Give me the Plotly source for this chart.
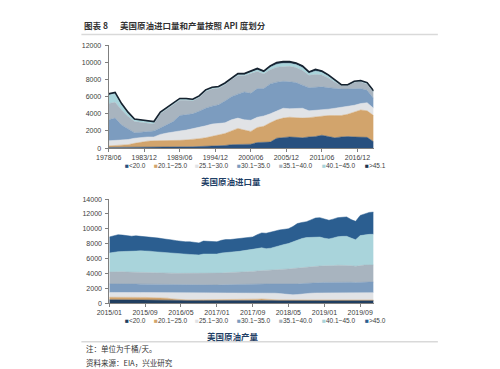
import plotly.graph_objects as go

# ---------------- data: US crude imports by API gravity (kb/d), annual ----------------
imp_dates = [f"{y}-06-01" for y in range(1978, 2020)]
imp_lt20 = [80, 80, 70, 70, 70, 80, 100, 120, 130, 130, 130, 140, 150, 150, 180, 200, 220, 250, 300, 400, 400,
            400, 450, 650, 700, 700, 1150, 1250, 1300, 1250, 1200, 1300, 1350, 1500, 1350, 1200, 1300, 1350, 1300,
            1300, 1250, 750]
imp_20_25 = [170, 200, 230, 330, 480, 620, 700, 730, 720, 750, 770, 760, 800, 850, 920, 1000, 1130, 1250, 1400,
             1600, 1900, 1700, 1500, 1750, 1850, 2250, 2150, 2250, 2300, 2300, 2300, 2250, 2300, 2200, 2450, 2600,
             2500, 2600, 2900, 3150, 3100, 3050]
imp_25_30 = [600, 600, 600, 600, 600, 550, 500, 450, 750, 870, 1000, 1100, 1150, 1250, 1350, 1400, 1450, 1350, 1250,
             1300, 1200, 1200, 1300, 1200, 1200, 1050, 1000, 1150, 1000, 1100, 1150, 800, 750, 750, 750, 850, 950,
             900, 800, 750, 950, 850]
imp_30_35 = [2450, 2620, 1800, 1200, 650, 600, 600, 700, 750, 950, 1200, 1800, 1800, 1750, 1850, 2050, 2100, 2200,
             2550, 2700, 2800, 3250, 3150, 3350, 3200, 3500, 3400, 3150, 3150, 3000, 2700, 2700, 2700, 2700, 2500,
             2300, 2150, 2050, 1950, 1750, 1450, 1150]
imp_35_40 = [1900, 1850, 1750, 1500, 1300, 1150, 1050, 800, 1650, 1800, 1950, 1800, 1700, 1500, 1600, 1950, 2000,
             1950, 1900, 2000, 2150, 1900, 2300, 2000, 1700, 1650, 1750, 1700, 1800, 1750, 1700, 1450, 1500, 1400,
             1150, 750, 400, 400, 750, 800, 700, 750]
imp_40_45 = [1000, 1050, 650, 400, 250, 250, 250, 250, 150, 150, 100, 120, 120, 120, 120, 120, 120, 120, 120, 120,
             150, 150, 180, 200, 200, 300, 350, 400, 350, 350, 350, 250, 400, 300, 220, 200, 50, 50, 50, 70, 100, 70]
imp_gt45 = [150, 100, 100, 100, 50, 50, 50, 50, 50, 50, 50, 80, 80, 80, 80, 80, 80, 80, 80, 80, 100, 100, 120, 150,
            150, 150, 200, 200, 200, 200, 200, 150, 200, 150, 130, 100, 50, 50, 50, 80, 100, 80]
imp_ticks = ["1978-06-01", "1983-12-01", "1989-06-01", "1994-12-01", "2000-06-01", "2005-12-01", "2011-06-01",
             "2016-12-01"]
imp_ticktext = ["1978/06", "1983/12", "1989/06", "1994/12", "2000/06", "2005/12", "2011/06", "2016/12"]

# ---------------- data: US crude production by API gravity (kb/d), monthly ----------------
prod_dates = [f"{y}-{m:02d}-01" for y in range(2015, 2020) for m in range(1, 13)]
prod_lt20 = [450, 450, 440, 440, 430, 430, 430, 420, 420, 420, 410, 410,
             400, 400, 380, 370, 360, 360, 350, 350, 350, 350, 340, 340,
             340, 340, 340, 340, 340, 340, 340, 340, 340, 340, 340, 340,
             340, 340, 340, 340, 330, 330, 330, 330, 330, 330, 330, 330,
             330, 330, 330, 330, 330, 330, 330, 330, 330, 330, 330, 330]
prod_20_25 = [330, 340, 350, 360, 360, 350, 350, 340, 340, 330, 320, 300,
              280, 250, 180, 120, 90, 80, 80, 80, 80, 80, 80, 80,
              80, 80, 90, 90, 90, 100, 100, 110, 120, 180, 200, 150,
              100, 90, 90, 90, 80, 80, 80, 80, 80, 80, 80, 80,
              80, 80, 80, 80, 80, 90, 130, 150, 120, 100, 90, 80]
prod_25_30 = [650, 650, 640, 630, 630, 640, 640, 650, 650, 660, 670, 690,
              700, 720, 800, 850, 880, 890, 900, 900, 900, 910, 910, 900,
              910, 920, 920, 930, 930, 930, 940, 940, 930, 880, 860, 900,
              930, 900, 850, 780, 720, 700, 740, 820, 880, 920, 950, 960,
              970, 970, 980, 980, 990, 980, 940, 900, 950, 970, 980, 990]
prod_30_35 = [1150, 1150, 1160, 1170, 1160, 1150, 1140, 1140, 1130, 1130, 1120, 1110,
              1100, 1100, 1100, 1100, 1110, 1110, 1100, 1100, 1090, 1100, 1110, 1100,
              1100, 1110, 1120, 1120, 1130, 1130, 1140, 1150, 1150, 1170, 1180, 1190,
              1200, 1230, 1270, 1320, 1380, 1420, 1420, 1390, 1380, 1390, 1390, 1400,
              1400, 1400, 1410, 1420, 1420, 1420, 1400, 1380, 1410, 1420, 1430, 1430]
prod_35_40 = [1600, 1620, 1630, 1620, 1600, 1600, 1620, 1630, 1640, 1630, 1620, 1600,
              1590, 1580, 1570, 1560, 1560, 1550, 1560, 1550, 1540, 1560, 1570, 1560,
              1570, 1590, 1610, 1620, 1640, 1660, 1680, 1700, 1720, 1760, 1780, 1790,
              1820, 1880, 1950, 2020, 2080, 2120, 2150, 2170, 2190, 2200, 2220, 2220,
              2230, 2220, 2240, 2280, 2260, 2270, 2230, 2200, 2270, 2290, 2300, 2300]
prod_40_45 = [2550, 2650, 2700, 2720, 2750, 2780, 2820, 2850, 2850, 2820, 2780, 2760,
              2720, 2700, 2660, 2620, 2590, 2580, 2560, 2540, 2520, 2600, 2590, 2560,
              2600, 2700, 2740, 2760, 2780, 2800, 2830, 2900, 2900, 3000, 3080, 2950,
              3000, 3150, 3250, 3330, 3420, 3600, 3800, 3900, 3960, 3950, 3950, 3900,
              3720, 3640, 3720, 3840, 3900, 3900, 3720, 3560, 4000, 4080, 4120, 4130]
prod_gt45 = [2170, 2240, 2280, 2210, 2120, 2050, 2050, 1970, 1920, 1910, 1880, 1880,
             1860, 1850, 1810, 1780, 1710, 1680, 1700, 1630, 1620, 1750, 1700, 1660,
             1650, 1710, 1730, 1690, 1690, 1690, 1670, 1710, 1740, 1870, 2010, 2080,
             2110, 2110, 2100, 2020, 1990, 2050, 2180, 2160, 2130, 2330, 2530, 2610,
             2620, 2510, 2540, 2570, 2570, 2610, 2500, 2480, 2720, 2810, 2950, 2990]
prod_ticks = ["2015-01-01", "2015-09-01", "2016-05-01", "2017-01-01", "2017-09-01", "2018-05-01", "2019-01-01",
              "2019-09-01"]
prod_ticktext = ["2015/01", "2015/09", "2016/05", "2017/01", "2017/09", "2018/05", "2019/01", "2019/09"]

imp_names = ["<20.0", "20.1~25.0", "25.1~30.0", "30.1~35.0", "35.1~40.0", "40.1~45.0", ">45.1"]
prod_names = ["<20.0", "20.1~25.0", "25.1~30.0", "30.1~35.0", "35.1~40.0", "40.1~45.0", ">45.0"]

imp_colors = ["#28507F", "#D2A46C", "#E1E3E6", "#7C9CBF", "#A8B4BF", "#A9D4DB", "#1D3550"]
prod_colors = ["#203E60", "#D2A46C", "#E1E3E6", "#7C9CBF", "#A8B4BF", "#A9D4DB", "#2B5E90"]

W, H = 500, 369


def px(x):
    return x / W


def py(y):
    return 1 - y / H


fig = go.Figure()

imp_series = [imp_lt20, imp_20_25, imp_25_30, imp_30_35, imp_35_40, imp_40_45, imp_gt45]
for i, (name, vals) in enumerate(zip(imp_names, imp_series)):
    last = i == len(imp_series) - 1
    fig.add_trace(go.Scatter(
        x=imp_dates, y=vals, name=name, mode="lines", stackgroup="imp",
        fillcolor=imp_colors[i],
        line=dict(color="#16222F" if last else imp_colors[i], width=1.6 if last else 0.5),
        xaxis="x", yaxis="y", showlegend=False,
    ))

prod_series = [prod_lt20, prod_20_25, prod_25_30, prod_30_35, prod_35_40, prod_40_45, prod_gt45]
for i, (name, vals) in enumerate(zip(prod_names, prod_series)):
    fig.add_trace(go.Scatter(
        x=prod_dates, y=vals, name=name, mode="lines", stackgroup="prod",
        fillcolor=prod_colors[i], line=dict(color=prod_colors[i], width=0.5),
        xaxis="x2", yaxis="y2", showlegend=False,
    ))

tickfont = dict(family="Liberation Sans, Arial, sans-serif", size=7, color="#404040")
axis_common = dict(showgrid=False, zeroline=False, showline=True, linecolor="#7F7F7F", linewidth=1,
                   ticks="outside", ticklen=3, tickcolor="#7F7F7F", tickfont=tickfont)

fig.update_layout(
    width=W, height=H, margin=dict(l=0, r=0, t=0, b=0),
    paper_bgcolor="white", plot_bgcolor="white", showlegend=False,
    xaxis=dict(domain=[px(90), px(362)], anchor="y", type="date",
               range=["1978-06-01", "2019-06-01"], tickvals=imp_ticks, ticktext=imp_ticktext, **axis_common),
    yaxis=dict(domain=[py(138.7), py(34)], anchor="x", range=[0, 12000], tickvals=list(range(0, 12001, 2000)),
               tickformat="d", ticklabelstandoff=2, **axis_common),
    xaxis2=dict(domain=[px(90.7), px(362)], anchor="y2", type="date",
                range=["2015-01-01", "2019-12-01"], tickvals=prod_ticks, ticktext=prod_ticktext, **axis_common),
    yaxis2=dict(domain=[py(296.7), py(190.7)], anchor="x2", range=[0, 14000], tickvals=list(range(0, 14001, 2000)),
                tickformat="d", ticklabelstandoff=2, **axis_common),
)

cjk = "Noto Sans CJK SC, sans-serif"
ann = []
# header
ann.append(dict(x=px(63), y=py(13), xref="paper", yref="paper", xanchor="left", yanchor="middle",
                text="<b>图表 8</b>", showarrow=False, font=dict(family=cjk, size=8.5, color="#333333")))
ann.append(dict(x=px(100), y=py(13), xref="paper", yref="paper", xanchor="left", yanchor="middle",
                text="<b>美国原油进口量和产量按照 API 度划分</b>", showarrow=False,
                font=dict(family=cjk, size=8.5, color="#333333")))
# chart titles
ann.append(dict(x=px(216), y=py(172.5), xref="paper", yref="paper", xanchor="center", yanchor="middle",
                text="<b>美国原油进口量</b>", showarrow=False, font=dict(family=cjk, size=8.5, color="#1F3F66")))
ann.append(dict(x=px(218), y=py(330), xref="paper", yref="paper", xanchor="center", yanchor="middle",
                text="<b>美国原油产量</b>", showarrow=False, font=dict(family=cjk, size=8.5, color="#1F3F66")))
# notes
ann.append(dict(x=px(65), y=py(343), xref="paper", yref="paper", xanchor="left", yanchor="middle",
                text="注：单位为千桶/天。", showarrow=False, font=dict(family=cjk, size=7.5, color="#333333")))
ann.append(dict(x=px(65), y=py(357), xref="paper", yref="paper", xanchor="left", yanchor="middle",
                text="资料来源：EIA，兴业研究", showarrow=False, font=dict(family=cjk, size=7.5, color="#333333")))

# legends (drawn as text entries)
leg_x = [105, 135, 177, 220, 263, 306.5, 351]


def esc(s):
    return s.replace("<", "&lt;").replace(">", "&gt;")


for names, colors, ly in ((imp_names, imp_colors, 156), (prod_names, prod_colors, 314.5)):
    for lx, name, col in zip(leg_x, names, colors):
        ann.append(dict(x=px(lx), y=py(ly), xref="paper", yref="paper", xanchor="left", yanchor="middle",
                        text=f'<span style="color:{col}">■</span>{esc(name)}', showarrow=False,
                        font=dict(family="Liberation Sans, Arial, sans-serif", size=6.5, color="#404040")))

fig.update_layout(annotations=ann)

# separator lines
fig.update_layout(shapes=[
    dict(type="line", xref="paper", yref="paper", x0=px(62), x1=px(428), y0=py(23), y1=py(23),
         line=dict(color="#D9D9D9", width=1.5)),
    dict(type="line", xref="paper", yref="paper", x0=px(62), x1=px(428), y0=py(336), y1=py(336),
         line=dict(color="#D9D9D9", width=1.5)),
])

fig.write_html("out.html")
